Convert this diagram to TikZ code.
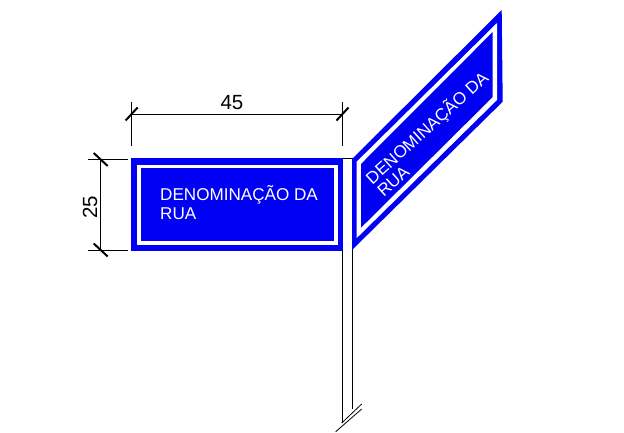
\documentclass[tikz,border=0pt]{standalone}
\usepackage{fontspec}
\setmainfont{Liberation Sans}
\usepackage{xcolor}
\definecolor{signblue}{RGB}{0,0,245}
\begin{document}
\begin{tikzpicture}
        [
            x=1pt,y=-1pt,
            plate/.style={fill=signblue,draw=none},
            stripe/.style={fill=white,draw=none},
            dimline/.style={draw=black,line width=0.8pt},
            tick/.style={draw=black,line width=2pt},
            signtext/.style={text=white,align=left,inner sep=0pt,font=\fontsize{17.1}{19}\selectfont},
            dimtext/.style={text=black,inner sep=0pt,font=\fontsize{20.5}{22}\selectfont},
        ]
    \useasboundingbox (0,0) rectangle (624,432);

    % post
    \draw[line width=0.8pt] (342.7,423) -- (342.7,158) -- (352.4,158) -- (352.4,409);
    \draw[line width=0.8pt] (361.7,404) -- (341.7,423);
    \draw[line width=0.8pt] (361.7,409) -- (335.7,431.7);

    % front sign
    \fill[plate] (131,158) rectangle (343,250.7);
    \fill[stripe] (136.7,165) rectangle (338,245);
    \fill[plate] (140.7,167.5) rectangle (334,241);
    \node[signtext,anchor=west] (frontlabel) at (160,203) {DENOMINAÇÃO DA\\RUA};

    % side sign
    \fill[plate] (352,159) -- (501.7,10) -- (502.7,101.7) -- (352,250) -- cycle;
    \fill[stripe] (356.7,161.7) -- (497,23) -- (497,100) -- (356.7,238) -- cycle;
    \fill[plate] (361,164) -- (492.7,32) -- (492.7,97) -- (361,227.7) -- cycle;
    \node[signtext,anchor=west,rotate=42,font=\fontsize{17.1}{17}\selectfont] (sidelabel) at (373,186) {DENOMINAÇÃO DA\\RUA};

    % dimensions
    \draw[dimline] (131.6,102) -- (131.6,146);
    \draw[dimline] (342.5,102) -- (342.5,146);
    \draw[dimline] (131.6,114) -- (342.5,114);
    \draw[dimline] (88,159.5) -- (128,159.5);
    \draw[dimline] (88,250) -- (128,250);
    \draw[dimline] (100.7,159.5) -- (100.7,250);
    \foreach \x in {131.6,342.5}
        \draw[tick] (\x-6,120.5) -- (\x+6,107.5);
    \foreach \y in {159.5,250}
        \draw[tick] (93.7,\y-6.5) -- (107.7,\y+6.5);
    \node[dimtext] (widthlabel) at (232,102.5) {45};
    \node[dimtext,rotate=90] (heightlabel) at (90,207) {25};
\end{tikzpicture}
\end{document}
